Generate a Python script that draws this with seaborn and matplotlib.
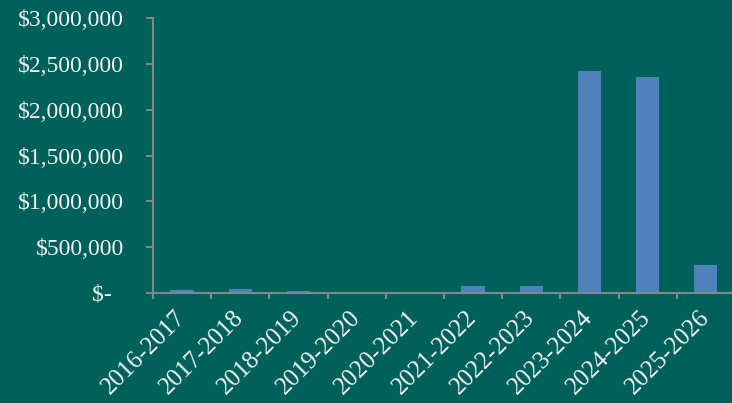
import numpy as np
import pandas as pd
import matplotlib
matplotlib.use("Agg")
import matplotlib.pyplot as plt
import seaborn as sns

# Values
years = ['2016-2017', '2017-2018', '2018-2019', '2019-2020', '2020-2021',
         '2021-2022', '2022-2023', '2023-2024', '2024-2025', '2025-2026']
amounts = [33000, 47000, 25000, 0, 0, 80000, 72000, 2420000, 2360000, 300000]
y_ticks = [0, 500000, 1000000, 1500000, 2000000, 2500000, 3000000]

bg = '#00605A'
bar_color = '#4F81BD'
axis_gray = '#868686'
text_color = '#F2F2F2'

sns.set_style('white')
plt.rcParams['font.family'] = ['Liberation Serif', 'DejaVu Serif']

df = pd.DataFrame({'year': years, 'amount': amounts})

fig = plt.figure(figsize=(7.32, 4.03), dpi=100, facecolor=bg)
ax = fig.add_axes([0.209, 0.273, 0.795, 0.682])
ax.set_facecolor(bg)

sns.barplot(data=df, x='year', y='amount', color=bar_color, width=0.4,
            saturation=1, linewidth=0, ax=ax)

ax.set_xlim(-0.5, len(years) - 0.5)
ax.set_ylim(0, 3000000)
ax.set_xlabel('')
ax.set_ylabel('')

# y axis (accounting style: zero shown as "$-" with trailing padding)
ax.set_yticks(y_ticks)
ax.set_yticklabels(['$-  ' if v == 0 else f'${v:,.0f}' for v in y_ticks])
ax.tick_params(axis='y', direction='out', length=5, width=1.5, color=axis_gray,
               labelcolor=text_color, labelsize=17, pad=16, left=True)

# x axis: major ticks at boundaries, labels at centres
ax.set_xticks(np.arange(-0.5, len(years), 1.0))
ax.set_xticklabels([])
ax.tick_params(axis='x', which='major', direction='out', length=4.5, width=1.5,
               color=axis_gray, bottom=True)
ax.set_xticks(np.arange(len(years)), minor=True)
ax.set_xticklabels(years, minor=True, rotation=45, ha='right',
                   va='center', rotation_mode='anchor')
ax.tick_params(axis='x', which='minor', length=0, labelcolor=text_color,
               labelsize=18, pad=15)

for side in ['top', 'right']:
    ax.spines[side].set_visible(False)
for side in ['left', 'bottom']:
    ax.spines[side].set_color(axis_gray)
    ax.spines[side].set_linewidth(1.5)

fig.savefig('out.png', dpi=100, facecolor=bg)
